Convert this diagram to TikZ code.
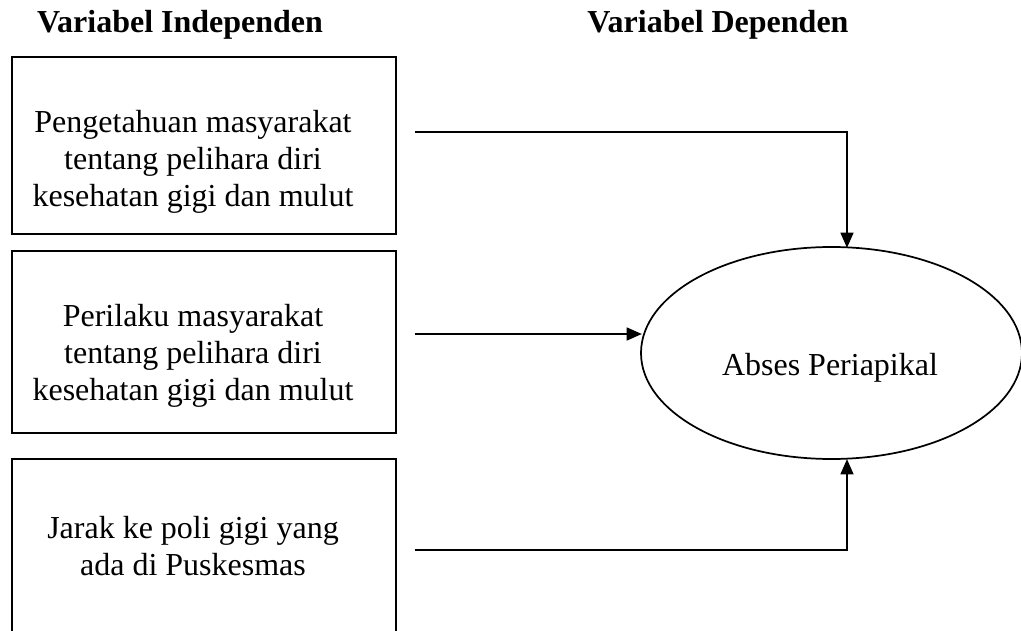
\documentclass[tikz,border=0pt]{standalone}
\usepackage{fontspec}
\setmainfont{Liberation Serif}
\usetikzlibrary{arrows.meta,shapes.geometric}
\begin{document}
\begin{tikzpicture}[x=0.75pt,y=-0.75pt,
  txt/.style={font=\fontsize{24}{27.75}\selectfont, align=center, inner sep=0pt},
  ttl/.style={font=\fontsize{24}{27.75}\selectfont\bfseries, inner sep=0pt, anchor=base},
  varbox/.style={draw, line width=1.3pt, rectangle, inner sep=0pt},
  conn/.style={line width=1.9pt, -{Triangle[length=11.5pt,width=9.5pt]}}]
\useasboundingbox (0,0) rectangle (1021,631);
\clip (0,0) rectangle (1021,631);
% titles
\node[ttl] (tInd) at (180,33) {Variabel Independen};
\node[ttl] (tDep) at (718,33) {Variabel Dependen};
% boxes
\node[varbox, minimum width=288pt, minimum height=132.75pt] (b1) at (204,145.5) {};
\node[varbox, minimum width=288pt, minimum height=136.5pt] (b2) at (204,342) {};
\node[varbox, minimum width=288pt, minimum height=141pt] (b3) at (204,553) {};
\node[txt] (x1) at (193,162) {Pengetahuan masyarakat\\tentang pelihara diri\\kesehatan gigi dan mulut};
\node[txt] (x2) at (193,356) {Perilaku masyarakat\\tentang pelihara diri\\kesehatan gigi dan mulut};
\node[txt] (x3) at (193,546) {Jarak ke poli gigi yang\\ada di Puskesmas};
% ellipse
\node[draw, ellipse, line width=1.3pt, minimum width=285.75pt, minimum height=159pt, inner sep=0pt] (el) at (831.5,353) {};
\node[font=\fontsize{24}{27.75}\selectfont, inner sep=0pt, anchor=base] (elt) at (830,375) {Abses Periapikal};
% connector ends
\coordinate (s1) at (415,132);
\coordinate (e1) at (847,248);
\coordinate (s2) at (415,334);
\coordinate (e2) at (642,334);
\coordinate (s3) at (415,550);
\coordinate (e3) at (847,459);
\draw[conn] (s1) -| (e1);
\draw[conn] (s2) -- (e2);
\draw[conn] (s3) -| (e3);
\end{tikzpicture}
\end{document}
